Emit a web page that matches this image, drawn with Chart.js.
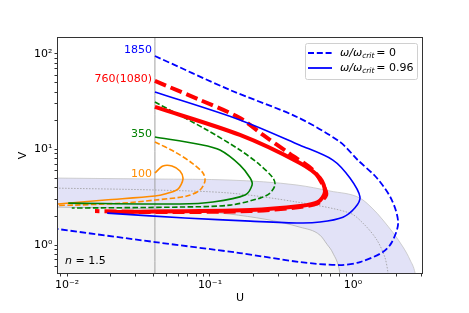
<!DOCTYPE html>
<html><head><meta charset="utf-8">
<script src="https://cdn.jsdelivr.net/npm/chart.js@4.4.0/dist/chart.umd.min.js"></script>
<style>html,body{margin:0;background:#fff}</style>
</head><body>
<canvas id="c" width="469" height="313"></canvas>
<script>
// curves in the U-V plane
const u1850_0 = [0.0412, 0.138, 0.406, 0.811, 1.08, 1.47, 1.87, 2.07, 1.87, 1.62, 1.12, 0.81, 0.425, 0.162, 0.0412, 0.00865, 0.007];
const v1850_0 = [95.3, 42.0, 21.9, 12.0, 7.76, 5.03, 2.96, 1.70, 1.07, 0.845, 0.664, 0.618, 0.664, 0.825, 1.075, 1.47, 1.54];
const u1850_96 = [0.0412, 0.162, 0.426, 0.724, 0.953, 1.12, 1.03, 0.851, 0.588, 0.425, 0.191, 0.0668, 0.0191];
const v1850_96 = [40.0, 20.4, 11.1, 7.76, 5.03, 3.18, 2.44, 1.96, 1.74, 1.70, 1.78, 1.92, 2.16];
const u760_0 = [0.0412, 0.0851, 0.162, 0.235, 0.362, 0.525, 0.617, 0.65, 0.569, 0.425, 0.191, 0.038, 0.0157];
const v760_0 = [52.2, 33.0, 21.4, 14.2, 9.0, 6.10, 4.25, 3.34, 2.75, 2.50, 2.27, 2.22, 2.27];
const u760_96 = [0.0412, 0.162, 0.425, 0.588, 0.637, 0.569, 0.425, 0.191, 0.0207];
const v760_96 = [27.9, 14.2, 7.22, 5.03, 3.59, 2.82, 2.56, 2.33, 2.22];
const u350_0 = [0.0412, 0.0953, 0.162, 0.224, 0.276, 0.285, 0.263, 0.224, 0.138, 0.0617, 0.0108];
const v350_0 = [31.4, 16.0, 9.88, 6.88, 5.03, 4.25, 3.50, 3.10, 2.62, 2.50, 2.44];
const u350_96 = [0.0412, 0.0851, 0.1175, 0.162, 0.191, 0.197, 0.176, 0.105, 0.0617, 0.0102];
const v350_96 = [13.5, 11.3, 9.88, 6.88, 5.03, 4.25, 3.34, 2.82, 2.69, 2.75];
const u100_0 = [0.0412, 0.0569, 0.0749, 0.0893, 0.0922, 0.0851, 0.0690, 0.0412, 0.0243, 0.0114, 0.008];
const v100_0 = [12.0, 9.42, 7.22, 5.68, 4.68, 3.77, 3.26, 2.96, 2.75, 2.62, 2.60];
const u100_96 = [0.0412, 0.0469, 0.0542, 0.0617, 0.0647, 0.0597, 0.0484, 0.0412, 0.0185, 0.00865, 0.008];
const v100_96 = [5.68, 6.72, 6.72, 5.96, 4.91, 3.86, 3.42, 3.26, 2.96, 2.69, 2.68];

// shaded zones
const uEdge = [0.008, 0.0412, 0.138, 0.406, 0.690, 1.12, 1.36, 1.62, 2.24, 2.51, 2.72, 2.8];
const vEdge = [5.03, 4.91, 4.79, 4.25, 3.68, 3.10, 2.44, 1.83, 0.953, 0.697, 0.509, 0.38];
const uMid = [0.008, 0.0412, 0.138, 0.406, 0.953, 1.21, 1.47, 1.67, 1.76, 1.8];
const vMid = [3.95, 3.77, 3.50, 2.82, 2.16, 1.62, 1.13, 0.749, 0.509, 0.38];
const uCore = [0.008, 0.0412, 0.138, 0.425, 0.588, 0.658, 0.724, 0.811, 0.83];
const vCore = [2.50, 2.38, 2.11, 1.54, 1.27, 1.02, 0.825, 0.509, 0.38];
const uWall = 0.0412;

const curveNames = ['1850', '760(1080)', '350', '100'];
const legendTexts = ['0', '0.96'];
const nLabel = '1.5';

const labelAt = [[0.0393, 110], [0.0393, 54.7], [0.0393, 14.5], [0.0393, 5.54]];
const labelColors = ['#0000ff', '#ff0000', '#008000', '#ff8c00'];

const pts = (u, v) => u.map((x, i) => ({x, y: v[i]}));
const line = (u, v, color, width, dash, order) => ({
  data: pts(u, v), borderColor: color, borderWidth: width, borderDash: dash,
  showLine: true, pointRadius: 0, tension: 0.3, fill: false, clip: 0, order
});

const SUP = {'-': '⁻', '0': '⁰', '1': '¹', '2': '²', '3': '³'};
function tickLabel(v) {
  const e = Math.log10(v);
  if (Math.abs(e - Math.round(e)) > 1e-6) return '';
  return '10' + String(Math.round(e)).split('').map(c => SUP[c]).join('');
}
function logTicks(min, max) {
  const out = [];
  for (let e = Math.floor(Math.log10(min)); e <= Math.ceil(Math.log10(max)); e++)
    for (let m = 1; m < 10; m++) {
      const v = m * Math.pow(10, e);
      if (v >= min && v <= max) out.push({value: v});
    }
  return out;
}

const FONT = '"DejaVu Sans"';

const overlay = {
  id: 'overlay',
  afterDraw(chart) {
    const {ctx, chartArea: a, scales: {x, y}} = chart;
    ctx.save();
    ctx.font = '11px ' + FONT;
    ctx.textAlign = 'right';
    ctx.textBaseline = 'middle';
    curveNames.forEach((t, i) => {
      ctx.fillStyle = labelColors[i];
      ctx.fillText(t, x.getPixelForValue(labelAt[i][0]), y.getPixelForValue(labelAt[i][1]));
    });

    // n = 1.5
    ctx.textAlign = 'left';
    ctx.fillStyle = '#000';
    let nx = a.left + 7, ny = a.bottom - 12;
    ctx.font = 'italic 11px ' + FONT;
    ctx.fillText('n', nx, ny);
    nx += ctx.measureText('n').width;
    ctx.font = '11px ' + FONT;
    ctx.fillText(' = ' + nLabel, nx, ny);

    // legend
    const lx = a.right - 117, ly = a.top + 5;
    ctx.beginPath();
    ctx.roundRect(lx + 0.5, ly + 0.5, 112, 36, 2);
    ctx.fillStyle = 'rgba(255,255,255,0.8)';
    ctx.fill();
    ctx.strokeStyle = '#d0d0d0';
    ctx.lineWidth = 1;
    ctx.stroke();
    legendTexts.forEach((t, i) => {
      const yy = ly + 10 + i * 15;
      ctx.beginPath();
      ctx.setLineDash(i === 0 ? [6, 2.8] : []);
      ctx.strokeStyle = '#0000ff';
      ctx.lineWidth = 1.8;
      ctx.moveTo(lx + 3, yy);
      ctx.lineTo(lx + 27, yy);
      ctx.stroke();
      ctx.setLineDash([]);
      ctx.fillStyle = '#000';
      let tx = lx + 35;
      ctx.font = 'italic 11px ' + FONT;
      ctx.fillText('ω/ω', tx, yy);
      tx += ctx.measureText('ω/ω').width;
      ctx.font = 'italic 7.5px ' + FONT;
      ctx.fillText('crit', tx, yy + 3);
      tx += ctx.measureText('crit').width + 2;
      ctx.font = '11px ' + FONT;
      ctx.fillText('= ' + t, tx, yy);
    });

    // frame
    ctx.strokeStyle = '#333';
    ctx.lineWidth = 1;
    ctx.strokeRect(a.left - 0.5, a.top - 0.5, a.right - a.left + 1, a.bottom - a.top + 1);
    ctx.restore();
  }
};

const axis = (min, max, titleText, titlePad, fit) => ({
  type: 'logarithmic', min, max,
  afterBuildTicks: s => { s.ticks = logTicks(min, max); },
  afterFit: fit,
  grid: {drawOnChartArea: false, drawTicks: true, tickLength: 3.5, tickColor: '#333'},
  border: {display: false},
  ticks: {autoSkip: false, maxRotation: 0, padding: 2, color: '#000',
          font: {family: 'DejaVu Sans', size: 11}, callback: v => tickLabel(v)},
  title: {display: true, text: titleText, color: '#000', padding: titlePad,
          font: {family: 'DejaVu Sans', size: 11}}
});

new Chart(document.getElementById('c'), {
  type: 'scatter',
  data: {datasets: [
    line(u1850_0, v1850_0, '#0000ff', 1.8, [6.5, 2.8], 0),
    line(u1850_96, v1850_96, '#0000ff', 1.6, [], 0),
    line(u760_0, v760_0, '#ff0000', 4, [12, 5], 0),
    line(u760_96, v760_96, '#ff0000', 4, [], 0),
    line(u350_0, v350_0, '#008000', 1.6, [5.5, 2.4], 0),
    line(u350_96, v350_96, '#008000', 1.6, [], 0),
    line(u100_0, v100_0, '#ff8c00', 1.6, [5.5, 2.4], 0),
    line(u100_96, v100_96, '#ff8c00', 1.6, [], 0),
    line([uWall, uWall], [0.3, 300], '#a0a0a0', 1, [], 5),
    line(uMid, vMid, '#999999', 0.8, [1.5, 1.5], 6),
    Object.assign(line(uCore, vCore, '#b0b0b0', 0.8, [], 7),
      {fill: 'start', backgroundColor: '#f3f3f3', cubicInterpolationMode: 'monotone'}),
    Object.assign(line(uEdge, vEdge, '#c4c4c4', 0.8, [], 8),
      {fill: 'start', backgroundColor: '#e2e2f7', cubicInterpolationMode: 'monotone'})
  ]},
  options: {
    responsive: false,
    animation: false,
    devicePixelRatio: 1,
    layout: {padding: {left: 0, right: 47, top: 38, bottom: 0}},
    plugins: {legend: {display: false}, tooltip: {enabled: false}},
    scales: {
      x: axis(0.00865, 3.04, 'U', {top: 0, bottom: 8.4}, s => { s.height = 40; }),
      y: axis(0.51, 147, 'V', {top: 16.4, bottom: 0}, s => { s.width = 58; })
    }
  },
  plugins: [overlay]
});
</script>
</body></html>
